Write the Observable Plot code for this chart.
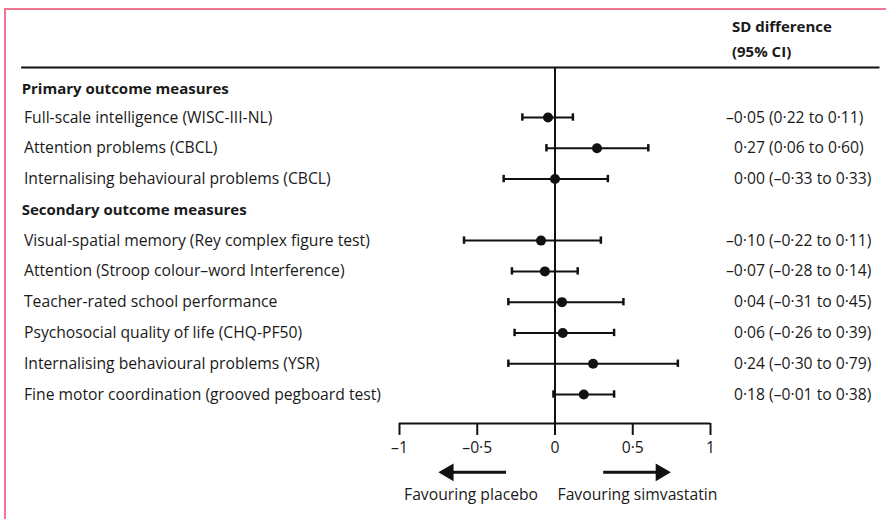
<!DOCTYPE html>
<html>
<head>
<meta charset="utf-8">
<script src="https://cdn.jsdelivr.net/npm/d3@7"></script>
<script src="https://cdn.jsdelivr.net/npm/@observablehq/plot@0.6"></script>
<style>
  html, body { margin: 0; padding: 0; background: #fff; }
  #wrap { position: relative; width: 886px; height: 519px; overflow: hidden; }
  #frame { position: absolute; left: 4px; top: 8px; width: 1000px; height: 1000px;
           border-left: 2px solid #ef7590; border-top: 2px solid #ef7590; pointer-events: none; }
  svg { font-family: "Open Sans", sans-serif; }
</style>
</head>
<body>
<div id="wrap"><div id="frame"></div></div>
<script>
// Section headers (row index, text)
const headerRows = [0.09, 4];
const headerTexts = ["Primary outcome measures", "Secondary outcome measures"];

// Outcomes
const outcomeRows = [1, 2, 3, 5, 6, 7, 8, 9, 10];
const outcomes = [
  "Full-scale intelligence (WISC-III-NL)",
  "Attention problems (CBCL)",
  "Internalising behavioural problems (CBCL)",
  "Visual-spatial memory (Rey complex figure test)",
  "Attention (Stroop colour\u2013word Interference)",
  "Teacher-rated school performance",
  "Psychosocial quality of life (CHQ-PF50)",
  "Internalising behavioural problems (YSR)",
  "Fine motor coordination (grooved pegboard test)"
];
// Plotted estimates and CI ends
const estimate = [-0.045, 0.27, 0.00, -0.09, -0.065, 0.045, 0.05, 0.245, 0.185];
const lower    = [-0.21, -0.055, -0.33, -0.585, -0.277, -0.30, -0.26, -0.30, -0.01];
const upper    = [0.115, 0.60, 0.34, 0.295, 0.146, 0.44, 0.38, 0.79, 0.38];
// Printed value column
const valueTexts = [
  "\u20130\u00b705 (0\u00b722 to 0\u00b711)",
  "0\u00b727 (0\u00b706 to 0\u00b760)",
  "0\u00b700 (\u20130\u00b733 to 0\u00b733)",
  "\u20130\u00b710 (\u20130\u00b722 to 0\u00b711)",
  "\u20130\u00b707 (\u20130\u00b728 to 0\u00b714)",
  "0\u00b704 (\u20130\u00b731 to 0\u00b745)",
  "0\u00b706 (\u20130\u00b726 to 0\u00b739)",
  "0\u00b724 (\u20130\u00b730 to 0\u00b779)",
  "0\u00b718 (\u20130\u00b701 to 0\u00b738)"
];
// Axis ticks
const tickValues = [-1, -0.5, 0, 0.5, 1];
const tickLabels = ["\u20131", "\u20130\u00b75", "0", "0\u00b75", "1"];
const directionTexts = ["Favouring placebo", "Favouring simvastatin"];
const columnTitle = ["SD difference", "(95% CI)"];

const rows = outcomes.map((o, i) => ({
  row: outcomeRows[i], label: o, est: estimate[i], lo: lower[i], hi: upper[i], value: valueTexts[i]
}));
const headers = headerTexts.map((t, i) => ({row: headerRows[i], label: t}));
const ticks = tickValues.map((v, i) => ({v, label: tickLabels[i]}));

// layout positions in scale units
const LABEL_X = -3.415, HEAD_X = -3.43, VALUE_X = 1.151, NEG_SHIFT = -8;
const RULE_TOP = -0.624, AXIS_Y = 10.94, TICK_END = 11.33, TICKLAB_Y = 11.75, ARROW_Y = 12.53, DIR_Y = 13.28;
const TITLE_Y = [-1.92, -1.11];
const CAP = 0.12;
const FS = 15.7, FSB = 15;

const chart = Plot.plot({
  width: 886, height: 519,
  marginTop: 0, marginRight: 0, marginBottom: 0, marginLeft: 0,
  x: {type: "linear", domain: [-1, 1], range: [399, 710], axis: null},
  y: {type: "linear", domain: [0, 10], range: [86.2, 394], axis: null},
  style: {background: "transparent", fontFamily: "Open Sans, sans-serif", color: "#1a1a1a"},
  marks: [
    // header rule
    Plot.ruleY([RULE_TOP], {x1: -3.43, x2: 2.09, stroke: "#111", strokeWidth: 2}),
    // column title
    Plot.text(columnTitle, {x: 1.138, y: TITLE_Y, text: d => d, textAnchor: "start",
      fontSize: FSB, fontWeight: "bold", fill: "#1a1a1a"}),
    // zero line
    Plot.ruleX([0], {y1: RULE_TOP, y2: AXIS_Y, stroke: "#111", strokeWidth: 2}),
    // axis
    Plot.ruleY([AXIS_Y], {x1: -1, x2: 1, stroke: "#111", strokeWidth: 2}),
    Plot.ruleX(ticks, {x: "v", y1: AXIS_Y, y2: TICK_END, stroke: "#111", strokeWidth: 2}),
    Plot.text(ticks, {x: "v", y: TICKLAB_Y, text: "label", fontSize: FS, fill: "#1a1a1a"}),
    // direction arrows
    Plot.link([[-0.315, -0.67], [0.31, 0.67]], {x1: d => d[0], x2: d => d[1], y1: ARROW_Y, y2: ARROW_Y,
      stroke: "#111", strokeWidth: 3}),
    Plot.dot([[-0.685, -90], [0.68, 90]], {x: d => d[0], y: ARROW_Y, rotate: d => d[1],
      symbol: "triangle", r: 6.5, fill: "#111", stroke: "none"}),
    Plot.text(directionTexts, {x: [-0.54, 0.53], y: DIR_Y, text: d => d, fontSize: FS, fill: "#1a1a1a"}),
    // labels
    Plot.text(headers, {x: HEAD_X, y: "row", text: "label", textAnchor: "start", fontSize: FSB,
      fontWeight: "bold", fill: "#1a1a1a"}),
    Plot.text(rows, {x: LABEL_X, y: "row", text: "label", textAnchor: "start", fontSize: FS, fill: "#1a1a1a"}),
    // CIs
    Plot.link(rows, {x1: "lo", x2: "hi", y1: "row", y2: "row", stroke: "#111", strokeWidth: 2}),
    Plot.ruleX(rows, {x: "lo", y1: d => d.row - CAP, y2: d => d.row + CAP, stroke: "#111", strokeWidth: 2.5}),
    Plot.ruleX(rows, {x: "hi", y1: d => d.row - CAP, y2: d => d.row + CAP, stroke: "#111", strokeWidth: 2.5}),
    Plot.dot(rows, {x: "est", y: "row", r: 5, fill: "#111", stroke: "none"}),
    // values
    Plot.text(rows.filter(d => !d.value.startsWith("\u2013")), {x: VALUE_X, y: "row", text: "value",
      textAnchor: "start", fontSize: FS, fill: "#1a1a1a"}),
    Plot.text(rows.filter(d => d.value.startsWith("\u2013")), {x: VALUE_X, y: "row", text: "value",
      textAnchor: "start", dx: NEG_SHIFT, fontSize: FS, fill: "#1a1a1a"})
  ]
});
document.getElementById("wrap").prepend(chart);
</script>
</body>
</html>
